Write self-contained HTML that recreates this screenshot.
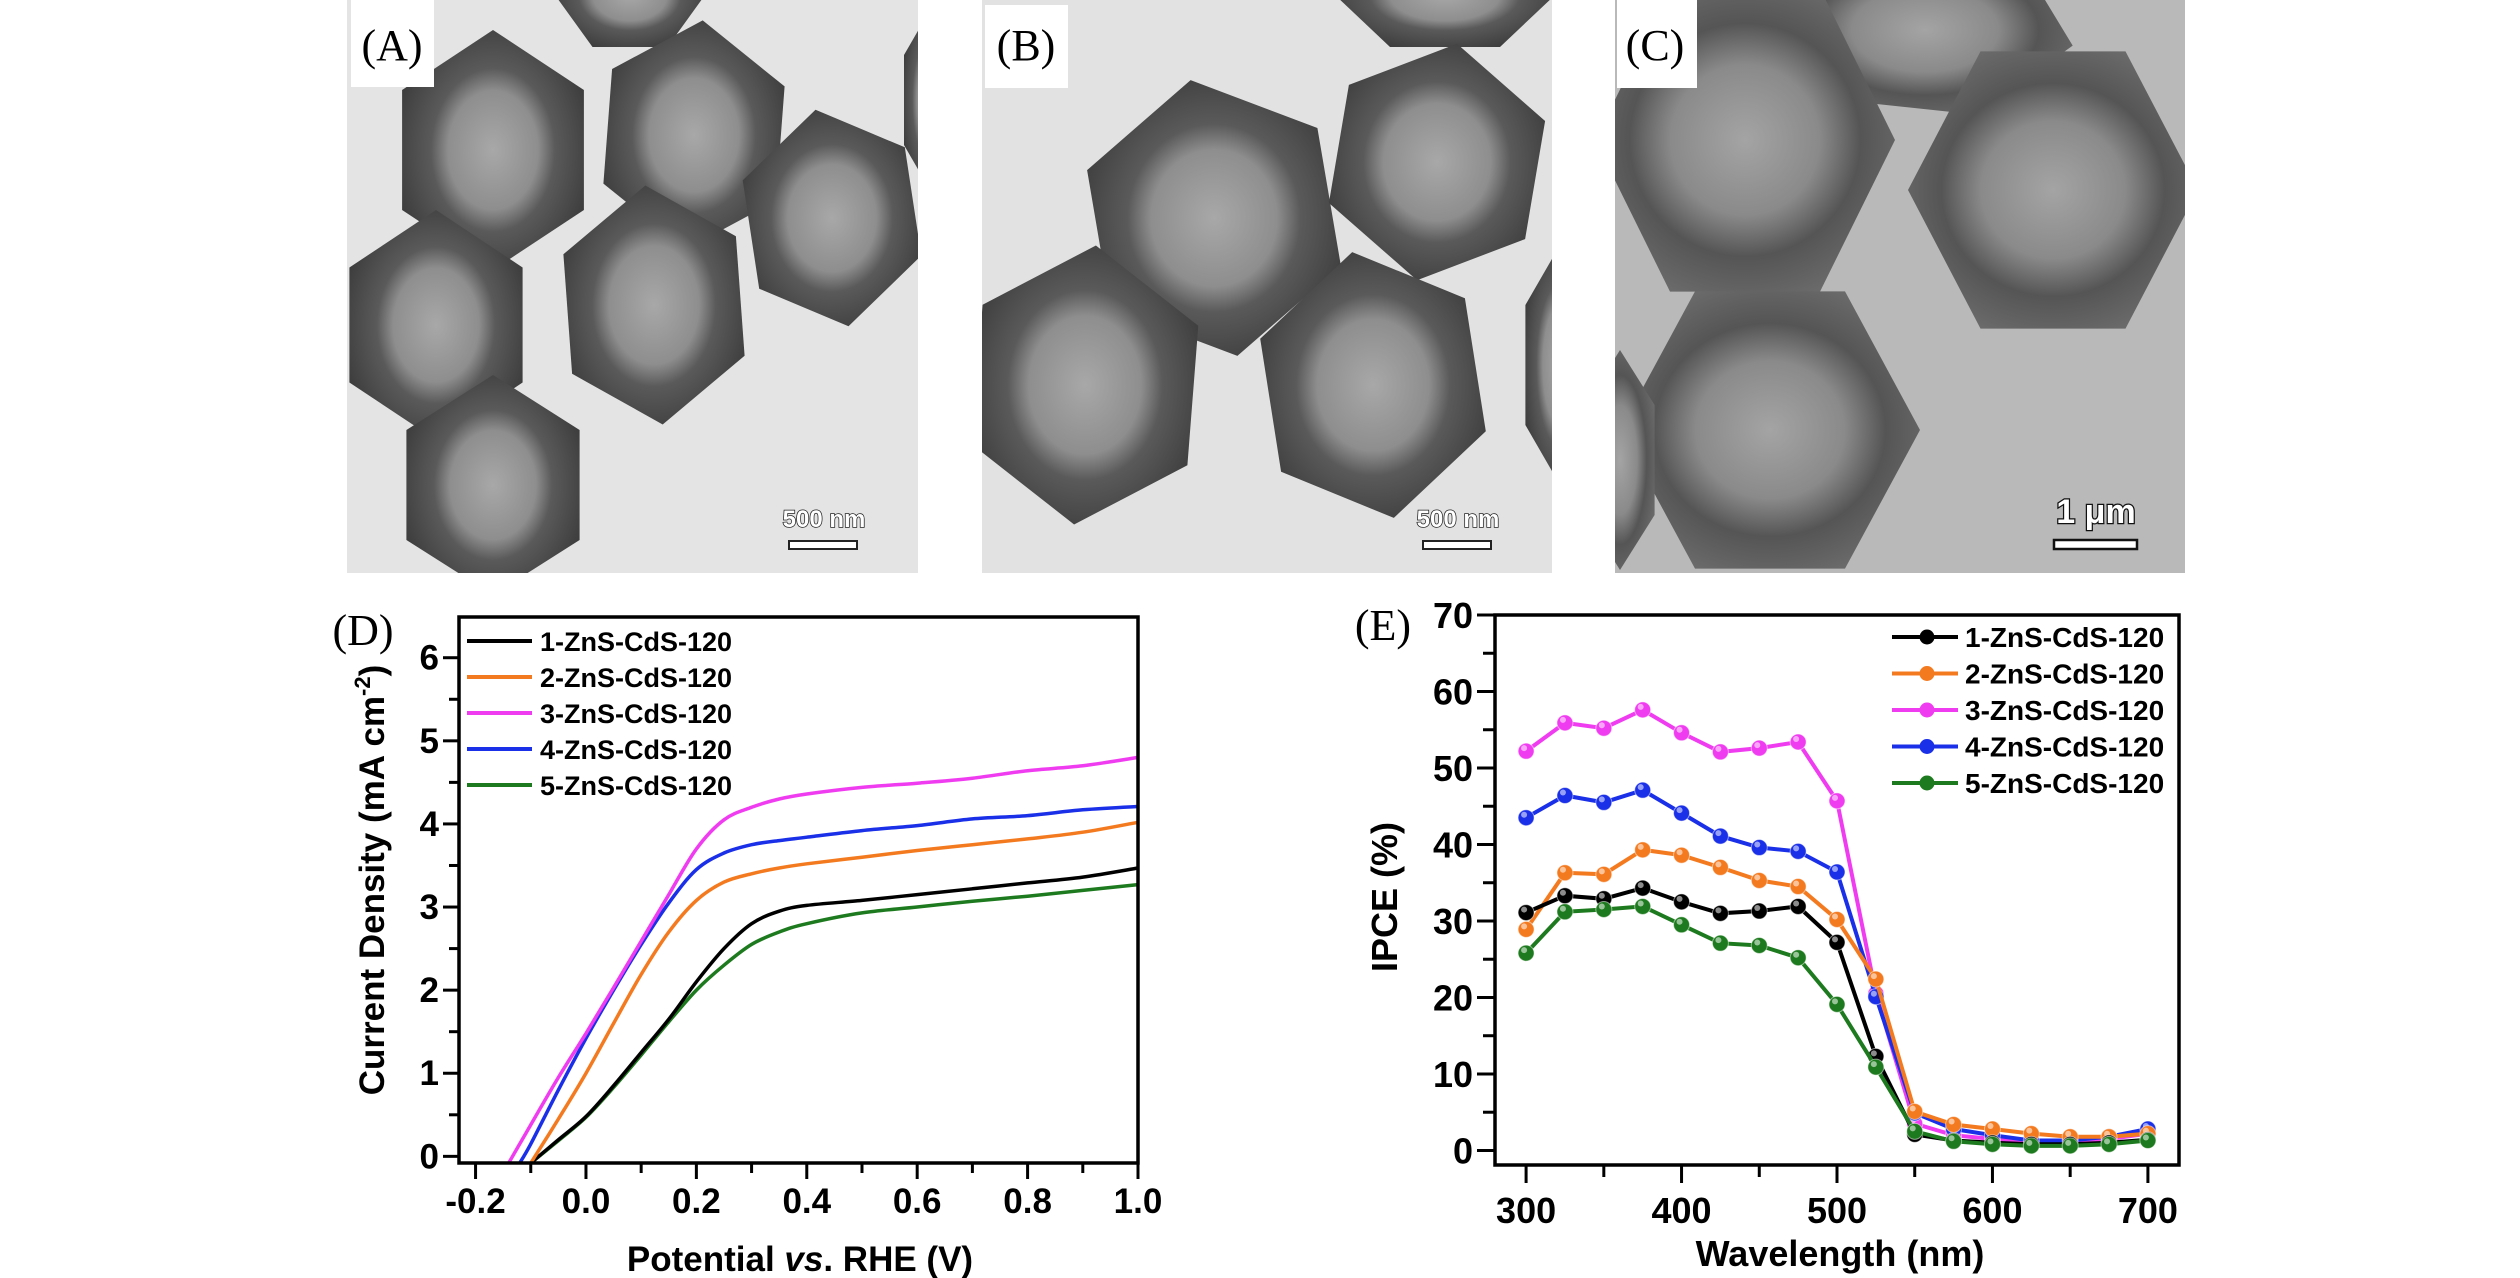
<!DOCTYPE html>
<html><head><meta charset="utf-8"><style>
html,body{margin:0;padding:0;background:#fff;}
body{width:2520px;height:1278px;overflow:hidden;position:relative;font-family:"Liberation Sans",sans-serif;}
svg{position:absolute;left:0;top:0;}
</style></head><body>
<svg id="fig" width="2520" height="1278" viewBox="0 0 2520 1278">
<defs>
<radialGradient id="pa" cx="50%" cy="50%" r="55%"><stop offset="0" stop-color="#a8a8a8"/><stop offset="0.45" stop-color="#8e8e8e"/><stop offset="0.62" stop-color="#5a5a5a"/><stop offset="1" stop-color="#3e3e3e"/></radialGradient>
<radialGradient id="pc" cx="50%" cy="50%" r="55%"><stop offset="0" stop-color="#a4a4a4"/><stop offset="0.45" stop-color="#8a8a8a"/><stop offset="0.7" stop-color="#555"/><stop offset="1" stop-color="#6a6a6a"/></radialGradient>
<clipPath id="cA"><rect x="347" y="0" width="571" height="573"/></clipPath>
<clipPath id="cB"><rect x="982" y="0" width="570" height="573"/></clipPath>
<clipPath id="cC"><rect x="1615" y="0" width="570" height="573"/></clipPath>
</defs>
<g clip-path="url(#cA)"><rect x="347" y="0" width="571" height="573" fill="#e4e4e4"/><g id="gA"></g></g>
<g clip-path="url(#cB)"><rect x="982" y="0" width="570" height="573" fill="#e2e2e2"/><g id="gB"></g></g>
<g clip-path="url(#cC)"><rect x="1615" y="0" width="570" height="573" fill="#b9b9b9"/><g id="gC"></g></g>

<rect x="351" y="0" width="83" height="87" fill="#fff"/>
<text x="392" y="60" text-anchor="middle" font-family="Liberation Serif,serif" font-size="44">(A)</text>
<rect x="985" y="5" width="83" height="83" fill="#fff"/>
<text x="1026" y="60" text-anchor="middle" font-family="Liberation Serif,serif" font-size="44">(B)</text>
<rect x="1617" y="0" width="80" height="88" fill="#fff"/>
<text x="1655" y="60" text-anchor="middle" font-family="Liberation Serif,serif" font-size="44">(C)</text>

<g><text x="824" y="527" text-anchor="middle" font-size="24" font-weight="bold" fill="#fff" stroke="#222" stroke-width="1.5" paint-order="stroke">500 nm</text><rect x="789" y="541" width="68" height="8" fill="#fff" stroke="#222" stroke-width="2"/></g>
<g><text x="1458" y="527" text-anchor="middle" font-size="24" font-weight="bold" fill="#fff" stroke="#222" stroke-width="1.5" paint-order="stroke">500 nm</text><rect x="1423" y="541" width="68" height="8" fill="#fff" stroke="#222" stroke-width="2"/></g>
<g><text x="2096" y="523" text-anchor="middle" font-size="34" font-weight="bold" fill="#fff" stroke="#111" stroke-width="2.5" paint-order="stroke">1 μm</text><rect x="2054" y="540" width="83" height="9" fill="#fff" stroke="#111" stroke-width="2.5"/></g>

<text x="363" y="645" text-anchor="middle" font-family="Liberation Serif,serif" font-size="44">(D)</text>
<text x="1383" y="640" text-anchor="middle" font-family="Liberation Serif,serif" font-size="44">(E)</text>
<g id="chartD"></g>
<g id="chartE"></g>
</svg>
<script>
// ---------- Panel D data ----------
const dSeriesNames = ["1-ZnS-CdS-120","2-ZnS-CdS-120","3-ZnS-CdS-120","4-ZnS-CdS-120","5-ZnS-CdS-120"];
const dColors = ["#000000","#f47a20","#f03cf0","#1a2fe8","#1e7a1e"];
const d1V = [-0.1,-0.05,0,0.05,0.1,0.15,0.2,0.25,0.3,0.35,0.4,0.5,0.6,0.7,0.8,0.9,1.0];
const d1J = [-0.08,0.2,0.48,0.85,1.25,1.65,2.1,2.5,2.8,2.95,3.02,3.08,3.15,3.22,3.29,3.36,3.47];
const d2V = [-0.1,-0.05,0,0.05,0.1,0.15,0.2,0.25,0.3,0.35,0.4,0.5,0.6,0.7,0.8,0.9,1.0];
const d2J = [-0.08,0.45,1.0,1.6,2.19,2.7,3.08,3.3,3.4,3.47,3.52,3.6,3.68,3.75,3.82,3.9,4.02];
const d3V = [-0.14,-0.1,-0.05,0,0.05,0.1,0.15,0.2,0.25,0.3,0.35,0.4,0.5,0.6,0.7,0.8,0.9,1.0];
const d3J = [-0.08,0.38,0.95,1.48,2.03,2.59,3.15,3.7,4.05,4.2,4.3,4.36,4.44,4.49,4.55,4.64,4.7,4.8];
const d4V = [-0.12,-0.1,-0.05,0,0.05,0.1,0.15,0.2,0.25,0.3,0.35,0.4,0.5,0.6,0.7,0.8,0.9,1.0];
const d4J = [-0.08,0.15,0.8,1.42,2.0,2.55,3.05,3.45,3.65,3.75,3.8,3.84,3.92,3.98,4.06,4.1,4.17,4.21];
const d5V = [-0.1,-0.05,0,0.05,0.1,0.15,0.2,0.25,0.3,0.35,0.4,0.5,0.6,0.7,0.8,0.9,1.0];
const d5J = [-0.08,0.19,0.47,0.83,1.22,1.62,2.0,2.3,2.55,2.7,2.8,2.93,3.0,3.07,3.13,3.2,3.27];
const dXTicks = ["-0.2","0.0","0.2","0.4","0.6","0.8","1.0"];
const dYTicks = ["0","1","2","3","4","5","6"];
// ---------- Panel E data ----------
const eWavelengths = [300,325,350,375,400,425,450,475,500,525,550,575,600,625,650,675,700];
const e1 = [31.1,33.3,32.9,34.3,32.5,31.0,31.3,31.9,27.2,12.3,2.1,1.3,1.0,0.8,0.8,1.0,1.4];
const e2 = [28.9,36.3,36.1,39.3,38.6,37.0,35.3,34.5,30.2,22.4,5.1,3.4,2.8,2.2,1.8,1.8,2.2];
const e3 = [52.2,55.9,55.2,57.6,54.6,52.1,52.6,53.4,45.7,20.5,3.5,2.0,1.5,1.2,1.2,1.5,2.2];
const e4 = [43.5,46.4,45.5,47.1,44.1,41.1,39.6,39.1,36.4,20.1,4.9,2.8,2.0,1.3,1.3,1.8,2.8];
const e5 = [25.8,31.2,31.5,31.9,29.5,27.1,26.8,25.2,19.1,10.9,2.5,1.2,0.8,0.6,0.6,0.8,1.3];
const eXTicks = ["300","400","500","600","700"];
const eYTicks = ["0","10","20","30","40","50","60","70"];

const NS="http://www.w3.org/2000/svg";
function mk(tag,attrs,parent){const e=document.createElementNS(NS,tag);for(const k in attrs)e.setAttribute(k,attrs[k]);parent.appendChild(e);return e;}

// ---------- TEM particles (decorative) ----------
function hex(g,cx,cy,rx,ry,rot,fill){
  const pts=[];for(let i=0;i<6;i++){const a=(rot+i*60)*Math.PI/180;pts.push((cx+rx*Math.cos(a)).toFixed(1)+","+(cy+ry*Math.sin(a)).toFixed(1));}
  const p=mk('polygon',{points:pts.join(" "),fill:fill},g);
  
  
}
const gA=document.getElementById('gA'),gB=document.getElementById('gB'),gC=document.getElementById('gC');
[[630,-5,75,60,0],[493,150,105,120,90],[694,135,100,115,95],[832,218,95,110,80],[436,325,100,115,90],[654,305,100,120,85],[493,485,100,110,90],[930,100,30,90,90]].forEach(p=>hex(gA,p[0],p[1],p[2],p[3],p[4],"url(#pa)"));
[[1445,-5,110,60,0],[1214,218,135,140,80],[1437,162,115,120,100],[1085,385,125,140,95],[1373,385,120,135,80],[1560,365,40,120,90]].forEach(p=>hex(gB,p[0],p[1],p[2],p[3],p[4],"url(#pa)"));
[[1925,30,150,90,10],[1745,140,150,175,0],[2053,190,145,160,0],[1770,430,150,160,0],[1620,460,40,110,90]].forEach(p=>hex(gC,p[0],p[1],p[2],p[3],p[4],"url(#pc)"));

// ---------- generic helpers ----------
function smoothPath(pts){
  let d="M"+pts[0][0].toFixed(1)+","+pts[0][1].toFixed(1);
  for(let i=0;i<pts.length-1;i++){
    const p0=pts[Math.max(0,i-1)],p1=pts[i],p2=pts[i+1],p3=pts[Math.min(pts.length-1,i+2)];
    const c1=[p1[0]+(p2[0]-p0[0])/6,p1[1]+(p2[1]-p0[1])/6],c2=[p2[0]-(p3[0]-p1[0])/6,p2[1]-(p3[1]-p1[1])/6];
    d+=" C"+c1[0].toFixed(1)+","+c1[1].toFixed(1)+" "+c2[0].toFixed(1)+","+c2[1].toFixed(1)+" "+p2[0].toFixed(1)+","+p2[1].toFixed(1);
  }
  return d;
}

// ---------- Panel D ----------
(function(){
  const g=document.getElementById('chartD');
  const L=459,R=1138,T=617,B=1163;
  const xmin=-0.23,xmax=1.0,ymin=-0.08,ymax=6.49;
  const sx=v=>L+(v-xmin)/(xmax-xmin)*(R-L);
  const sy=v=>B-(v-ymin)/(ymax-ymin)*(B-T);
  // ticks
  for(let i=0;i<=12;i++){const v=-0.2+i*0.1;const x=sx(v);const t=mk('line',{x1:x,y1:B,x2:x,y2:B+(i%2===0?16:10),stroke:"#000","stroke-width":3},g);}
  dXTicks.forEach(s=>{const t=mk('text',{x:sx(parseFloat(s)),y:B+50,"text-anchor":"middle","font-size":35,"font-weight":"bold"},g);t.textContent=s;});
  for(let i=0;i<=12;i++){const v=i*0.5;const y=sy(v);const t=mk('line',{x1:L,y1:y,x2:L-(i%2===0?16:10),y2:y,stroke:"#000","stroke-width":3},g);}
  dYTicks.forEach(s=>{const t=mk('text',{x:L-20,y:sy(parseFloat(s))+12,"text-anchor":"end","font-size":35,"font-weight":"bold"},g);t.textContent=s;});
  // series
  const Vs=[d1V,d2V,d3V,d4V,d5V],Js=[d1J,d2J,d3J,d4J,d5J];
  const order=[4,0,1,3,2];
  order.forEach(k=>{
    const pts=Vs[k].map((v,i)=>[sx(v),sy(Js[k][i])]);
    const p=mk('path',{d:smoothPath(pts),fill:"none",stroke:dColors[k],"stroke-width":3.5},g);
    
    
  });
  const frame=mk('rect',{x:L,y:T,width:R-L,height:B-T,fill:"none",stroke:"#000","stroke-width":3.5},g);
  
  
  // legend
  dSeriesNames.forEach((n,k)=>{
    const y=641+k*36;
    const ln=mk('line',{x1:467,y1:y,x2:532,y2:y,stroke:dColors[k],"stroke-width":4},g);
    
    
    const t=mk('text',{x:540,y:y+10,"font-size":27,"font-weight":"bold"},g);t.textContent=n;
    
    
  });
  const yt=mk('text',{x:0,y:0,"text-anchor":"middle","font-size":35,"font-weight":"bold",transform:"translate(384,880) rotate(-90)"},g);
  yt.innerHTML='Current Density (mA cm<tspan dy="-14" font-size="22">-2</tspan><tspan dy="14">)</tspan>';
  
  
  const xt=mk('text',{x:800,y:1271,"text-anchor":"middle","font-size":35,"font-weight":"bold"},g);
  xt.innerHTML='Potential <tspan font-style="italic">vs</tspan>. RHE (V)';
  
  
})();

// ---------- Panel E ----------
(function(){
  const g=document.getElementById('chartE');
  const L=1495,R=2179,T=615,B=1165;
  const xmin=280,xmax=720,ymin=-1.9,ymax=70;
  const sx=v=>L+(v-xmin)/(xmax-xmin)*(R-L);
  const sy=v=>B-(v-ymin)/(ymax-ymin)*(B-T);
  for(let v=300;v<=700;v+=50){const t=mk('line',{x1:sx(v),y1:B,x2:sx(v),y2:B+(v%100===0?18:12),stroke:"#000","stroke-width":3},g);}
  eXTicks.forEach(s=>{const t=mk('text',{x:sx(parseFloat(s)),y:B+58,"text-anchor":"middle","font-size":36,"font-weight":"bold"},g);t.textContent=s;});
  for(let v=0;v<=70;v+=5){const t=mk('line',{x1:L,y1:sy(v),x2:L-(v%10===0?18:12),y2:sy(v),stroke:"#000","stroke-width":3},g);}
  eYTicks.forEach(s=>{const t=mk('text',{x:L-22,y:sy(parseFloat(s))+13,"text-anchor":"end","font-size":36,"font-weight":"bold"},g);t.textContent=s;});
  const S=[e1,e2,e3,e4,e5];
  const order=[2,3,1,0,4];
  order.forEach(k=>{
    const pts=eWavelengths.map((w,i)=>[sx(w),sy(S[k][i])]);
    const pl=mk('polyline',{points:pts.map(p=>p[0].toFixed(1)+","+p[1].toFixed(1)).join(" "),fill:"none",stroke:dColors[k],"stroke-width":4},g);
    
    
    pts.forEach(p=>{
      const c=mk('circle',{cx:p[0],cy:p[1],r:8,fill:dColors[k],stroke:"#fff","stroke-width":1,"stroke-opacity":0.5},g);
      
      
      mk('circle',{cx:p[0]-2,cy:p[1]-3,r:3,fill:"#fff","fill-opacity":0.55},g);
    });
  });
  const frame=mk('rect',{x:L,y:T,width:R-L,height:B-T,fill:"none",stroke:"#000","stroke-width":3.5},g);
  
  
  dSeriesNames.forEach((n,k)=>{
    const y=637+k*36.5;
    const ln=mk('line',{x1:1892,y1:y,x2:1958,y2:y,stroke:dColors[k],"stroke-width":4},g);
    
    
    const c=mk('circle',{cx:1927,cy:y,r:7.5,fill:dColors[k]},g);
    
    
    const t=mk('text',{x:1965,y:y+10,"font-size":28,"font-weight":"bold"},g);t.textContent=n;
    
    
  });
  const yt=mk('text',{x:0,y:0,"text-anchor":"middle","font-size":36,"font-weight":"bold",transform:"translate(1397,897) rotate(-90)"},g);
  yt.textContent='IPCE (%)';
  
  
  const xt=mk('text',{x:1840,y:1266,"text-anchor":"middle","font-size":36,"font-weight":"bold"},g);
  xt.textContent='Wavelength (nm)';
  
  
})();
</script>
</body></html>
